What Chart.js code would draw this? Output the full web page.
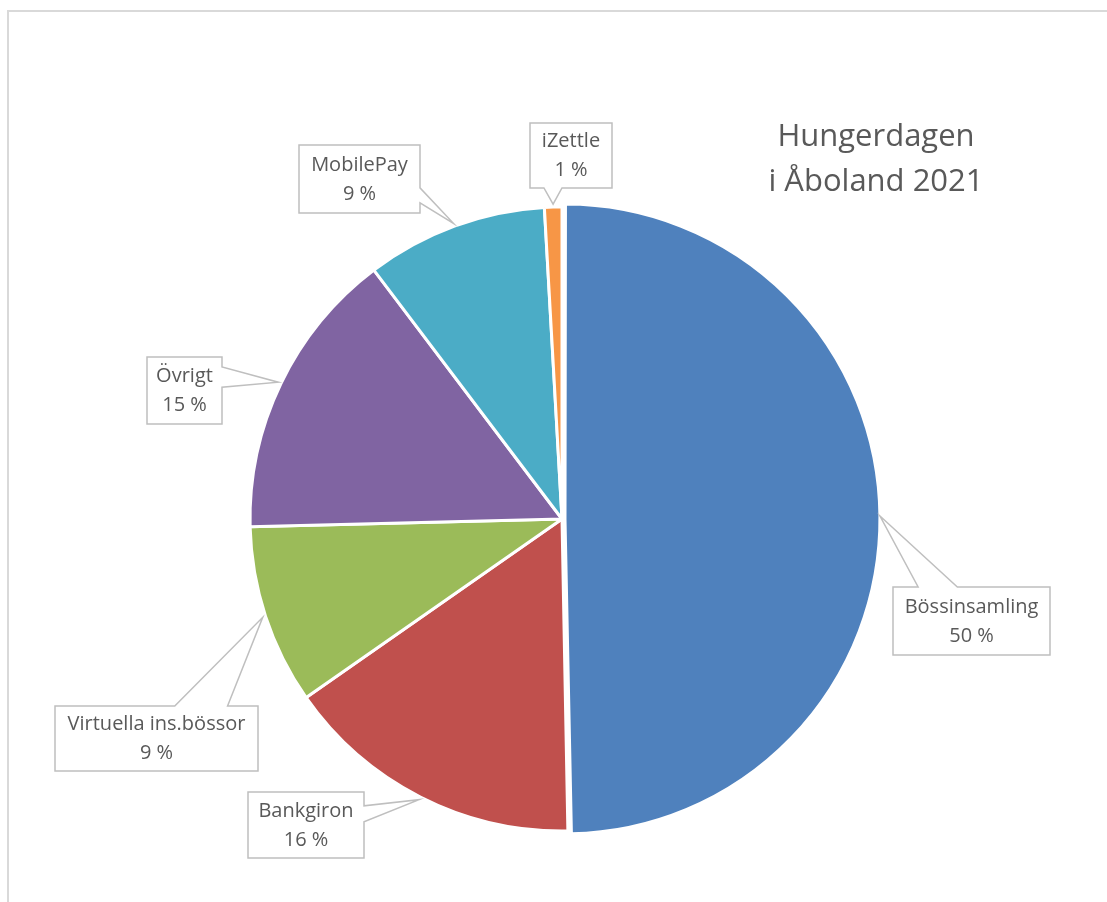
<!DOCTYPE html>
<html>
<head>
<meta charset="utf-8">
<script src="https://cdn.jsdelivr.net/npm/chart.js@4.4.1/dist/chart.umd.min.js"></script>
<style>
  html, body { margin: 0; padding: 0; background: #fff; overflow: hidden; }
  #frame { position: absolute; left: 7px; top: 10px; width: 1200px; height: 1000px;
           border-left: 2px solid #d9d9d9; border-top: 2px solid #d9d9d9; }
  #chart { position: absolute; left: 0; top: 0; }
</style>
</head>
<body>
<div id="frame"></div>
<canvas id="chart" width="1107" height="902"></canvas>
<script>
var categories = ["Bössinsamling", "Bankgiron", "Virtuella ins.bössor", "Övrigt", "MobilePay", "iZettle"];
var shares = [49.7, 15.6, 9.3, 15.1, 9.4, 0.9];
var sliceColors = ["#4F81BD", "#C0504D", "#9BBB59", "#8064A2", "#4BACC6", "#F79646"];
var titleLines = ["Hungerdagen", "i Åboland 2021"];

// callout boxes (px), the side the pointer leaves from, and where on that side (0..1)
var callouts = [
  {x: 893, y: 587, w: 157, h: 68, side: 'top', a: 0.16, b: 0.41},
  {x: 248, y: 792, w: 116, h: 66, side: 'right', a: 0.21, b: 0.45},
  {x: 55, y: 706, w: 203, h: 65, side: 'top', a: 0.59, b: 0.85},
  {x: 147, y: 357, w: 75, h: 67, side: 'right', a: 0.15, b: 0.45},
  {x: 299, y: 145, w: 121, h: 68, side: 'right', a: 0.63, b: 0.85},
  {x: 530, y: 123, w: 82, h: 65, side: 'bottom', a: 0.17, b: 0.39}
];

var textColor = "#595959";
var lineColor = "#bfbfbf";

function calloutPath(ctx, c, tip) {
  var x0 = c.x, y0 = c.y, x1 = c.x + c.w, y1 = c.y + c.h;
  ctx.beginPath();
  ctx.moveTo(x0, y0);
  if (c.side === 'top') {
    ctx.lineTo(x0 + c.w * c.a, y0);
    ctx.lineTo(tip.x, tip.y);
    ctx.lineTo(x0 + c.w * c.b, y0);
  }
  ctx.lineTo(x1, y0);
  if (c.side === 'right') {
    ctx.lineTo(x1, y0 + c.h * c.a);
    ctx.lineTo(tip.x, tip.y);
    ctx.lineTo(x1, y0 + c.h * c.b);
  }
  ctx.lineTo(x1, y1);
  if (c.side === 'bottom') {
    ctx.lineTo(x0 + c.w * c.b, y1);
    ctx.lineTo(tip.x, tip.y);
    ctx.lineTo(x0 + c.w * c.a, y1);
  }
  ctx.lineTo(x0, y1);
  ctx.closePath();
}

var calloutPlugin = {
  id: 'callouts',
  afterDatasetsDraw: function(chart) {
    var ctx = chart.ctx;
    var meta = chart.getDatasetMeta(0);
    var data = chart.data.datasets[0].data;
    var total = data.reduce(function(s, v) { return s + v; }, 0);
    var offsets = chart.data.datasets[0].offset;

    meta.data.forEach(function(arc, i) {
      var p = arc.getProps(['x', 'y', 'startAngle', 'endAngle', 'outerRadius'], true);
      var mid = (p.startAngle + p.endAngle) / 2;
      var r = p.outerRadius + 3 + (offsets[i] || 0) / 4;
      var tip = {x: p.x + Math.cos(mid) * r, y: p.y + Math.sin(mid) * r};
      var c = callouts[i];

      ctx.save();
      calloutPath(ctx, c, tip);
      ctx.fillStyle = "#fff";
      ctx.fill();
      ctx.lineWidth = 1.5;
      ctx.strokeStyle = lineColor;
      ctx.stroke();

      ctx.fillStyle = textColor;
      ctx.font = '20px "Open Sans"';
      ctx.textAlign = 'center';
      ctx.textBaseline = 'middle';
      var cx = c.x + c.w / 2, cy = c.y + c.h / 2;
      ctx.fillText(categories[i], cx, cy - 14);
      ctx.fillText(Math.round(data[i] / total * 100) + ' %', cx, cy + 15);
      ctx.restore();
    });

    ctx.save();
    ctx.fillStyle = textColor;
    ctx.font = '31px "Open Sans"';
    ctx.textAlign = 'center';
    ctx.textBaseline = 'middle';
    ctx.fillText(titleLines[0], 876, 137);
    ctx.fillText(titleLines[1], 876, 182);
    ctx.restore();
  }
};

var pieContainer = document.getElementById("chart").getContext('2d');
var pieChart = new Chart(pieContainer, {
  type: 'pie',
  data: {
    labels: categories,
    datasets: [{
      data: shares,
      backgroundColor: sliceColors,
      borderColor: "#fff",
      borderWidth: 3,
      offset: [12, 0, 0, 0, 0, 0],
      radius: 312
    }]
  },
  options: {
    responsive: false,
    animation: false,
    layout: {
      padding: {left: 212, right: 195, top: 209, bottom: 73}
    },
    plugins: {
      legend: {display: false},
      tooltip: {enabled: false},
      title: {display: false}
    }
  },
  plugins: [calloutPlugin]
});
</script>
</body>
</html>
